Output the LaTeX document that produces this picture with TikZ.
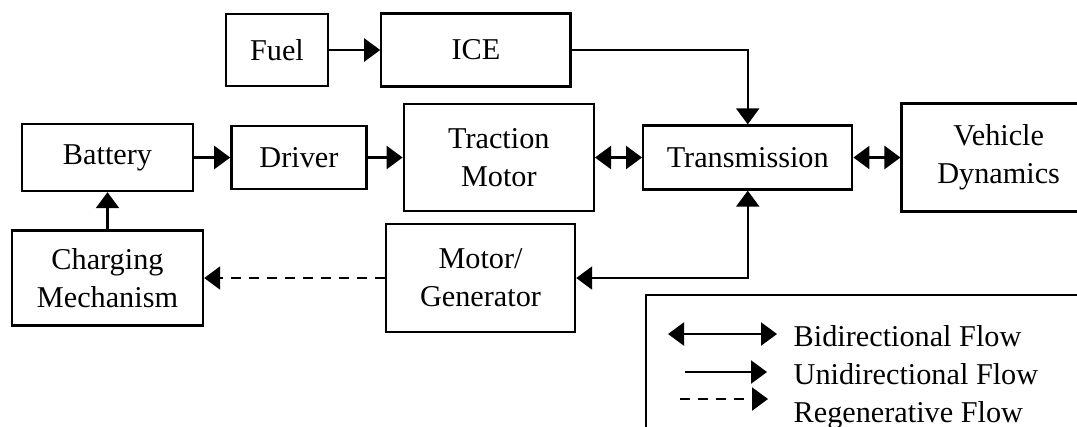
\documentclass[tikz,border=0pt]{standalone}
\usepackage{fontspec}
\setmainfont{Liberation Serif}
\usetikzlibrary{arrows.meta, positioning}

\begin{document}
\begin{tikzpicture}[
      x=0.01cm, y=-0.01cm,
      font=\fontsize{8.6}{10.8}\selectfont,
      block/.style={rectangle, draw=black, line width=0.65pt,
                    inner sep=1pt, align=center},
      uarr/.style={-{Triangle[length=0.16cm, width=0.23cm]}, line width=0.65pt},
      barr/.style={{Triangle[length=0.16cm, width=0.23cm]}-{Triangle[length=0.16cm, width=0.23cm]},
                   line width=0.65pt},
      rarr/.style={uarr, dash pattern=on 2.8pt off 2.3pt}
    ]
    \useasboundingbox (0,0) rectangle (1077,426);
    \node[block, minimum width=1.02cm, minimum height=0.72cm] (fuel) at (277,50) {Fuel};
    \node[block, minimum width=1.89cm, minimum height=0.73cm, right=0.51cm of fuel] (ice) {ICE};
    \node[block, minimum width=1.71cm, minimum height=0.67cm] (battery) at (107.5,157.5) {Battery};
    \node[block, minimum width=1.35cm, minimum height=0.63cm, right=0.36cm of battery] (driver) {Driver};
    \node[block, minimum width=1.90cm, minimum height=1.07cm, right=0.35cm of driver] (traction) {Traction\\Motor};
    \node[block, minimum width=2.09cm, minimum height=0.64cm, right=0.47cm of traction] (trans) {Transmission};
    \node[block, minimum width=1.94cm, minimum height=1.08cm, right=0.47cm of trans] (vehicle) {Vehicle\\Dynamics};
    \node[block, minimum width=1.91cm, minimum height=0.95cm] (charge) at (107.5,278) {Charging\\Mechanism};
    \node[block, minimum width=1.89cm, minimum height=1.08cm] (motgen) at (480.5,278) {Motor/\\Generator};

    \draw[uarr] (fuel) -- (ice);
    \draw[uarr] (battery) -- (driver);
    \draw[uarr] (driver) -- (traction);
    \draw[barr] (traction) -- (trans);
    \draw[barr] (trans) -- (vehicle);
    \draw[uarr] (ice.east) -| (trans.north);
    \draw[barr] (trans.south) |- (motgen.east);
    \draw[rarr] (motgen.west) -- (charge.east);
    \draw[uarr] (charge) -- (battery);

    % legend
    \draw[line width=0.65pt] (646,295) rectangle (1100,440);
    \node[anchor=base west, inner sep=0pt] (lbi) at (793,346) {Bidirectional Flow};
    \node[anchor=base west, inner sep=0pt] (luni) at (793,384) {Unidirectional Flow};
    \node[anchor=base west, inner sep=0pt] (lreg) at (793,422) {Regenerative Flow};
    \coordinate (bi1) at (668,334);
    \coordinate (bi2) at (777,334);
    \coordinate (uni1) at (685,372);
    \coordinate (uni2) at (767,372);
    \coordinate (reg1) at (680,399);
    \coordinate (reg2) at (768,399);
    \draw[barr] (bi1) -- (bi2);
    \draw[uarr] (uni1) -- (uni2);
    \draw[rarr] (reg1) -- (reg2);
  \end{tikzpicture}
\end{document}
